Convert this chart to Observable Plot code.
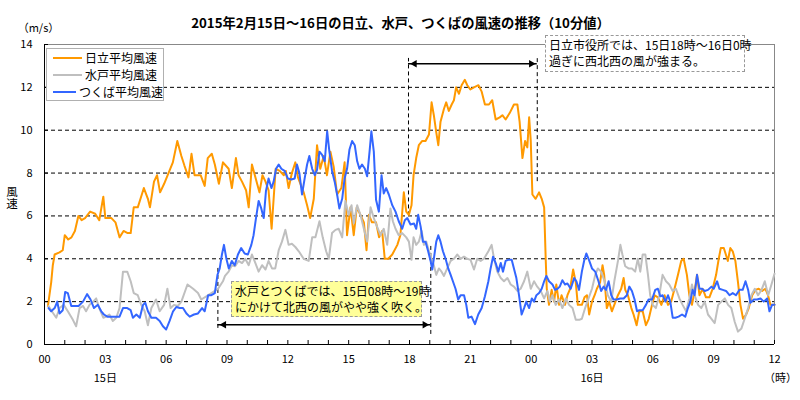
<!DOCTYPE html>
<html><head><meta charset="utf-8">
<script src="https://cdn.jsdelivr.net/npm/d3@7"></script>
<script src="https://cdn.jsdelivr.net/npm/@observablehq/plot@0.6"></script>
<style>
body{margin:0;background:#fff;font-family:'Noto Sans CJK JP',sans-serif;}
#wrap{position:relative;width:800px;height:400px;overflow:hidden;}
#wrap svg{position:absolute;left:0;top:0;}
.box{position:absolute;font-size:12px;line-height:16px;box-sizing:border-box;color:#000;white-space:nowrap;}
.row{display:flex;align-items:center;height:17px;}
.sw{display:inline-block;width:29px;height:2px;margin:0 3px 0 6px;}
.vlabel{position:absolute;left:6px;top:186px;font-size:11.5px;line-height:12px;writing-mode:vertical-rl;color:#000;}
</style></head><body><div id="wrap"></div>
<script>
// ---- data (hours from 15日00時, wind speed m/s) ----
const seriesNames = ["日立平均風速", "水戸平均風速", "つくば平均風速"];
const seriesColors = ["#ff9900", "#bfbfbf", "#3366ff"];

const hitachiT = [0.17,0.33,0.41,0.5,0.74,0.9,1.0,1.17,1.33,1.5,1.67,1.83,2.0,2.25,2.5,2.7,2.9,3.0,3.3,3.5,3.7,3.9,4.1,4.25,4.4,4.6,4.8,4.9,5.1,5.2,5.4,5.55,5.7,5.9,6.2,6.33,6.55,6.75,6.9,7.1,7.25,7.4,7.7,7.9,8.05,8.25,8.4,8.6,8.8,9.08,9.24,9.44,9.57,9.74,9.94,10.07,10.23,10.4,10.6,10.75,10.9,11.05,11.2,11.4,11.6,11.8,11.9,12.04,12.2,12.37,12.5,12.78,12.95,13.1,13.28,13.44,13.6,13.77,13.93,14.1,14.26,14.43,14.64,14.8,14.92,15.09,15.25,15.4,15.58,15.75,15.88,16.0,16.15,16.35,16.5,16.65,16.78,16.95,17.15,17.4,17.55,17.72,17.84,17.97,18.1,18.2,18.33,18.46,18.63,18.79,18.96,19.09,19.2,19.32,19.42,19.53,19.7,19.81,19.94,20.08,20.19,20.3,20.44,20.57,20.73,20.85,21.0,21.18,21.4,21.56,21.72,21.92,22.08,22.25,22.45,22.58,22.74,22.94,23.15,23.32,23.43,23.57,23.7,23.81,23.9,23.98,24.06,24.22,24.39,24.52,24.64,24.72,24.77,24.88,25.01,25.13,25.24,25.38,25.5,25.67,25.79,25.92,26.07,26.2,26.3,26.5,26.63,26.75,26.86,27.0,27.13,27.24,27.4,27.52,27.6,27.73,27.85,27.98,28.1,28.28,28.44,28.56,28.64,28.77,28.94,29.05,29.2,29.33,29.5,29.66,29.8,29.96,30.09,30.25,30.42,30.58,30.75,30.9,31.07,31.24,31.4,31.52,31.68,31.8,31.93,32.06,32.18,32.3,32.46,32.62,32.79,32.95,33.12,33.25,33.35,33.5,33.6,33.7,33.82,33.94,34.07,34.2,34.32,34.45,34.6,34.73,34.9,35.06,35.22,35.39,35.55,35.68,35.8,35.91,36.0];
const hitachiV = [1.8,2.9,3.7,4.2,4.3,4.4,5.1,4.9,5.0,5.3,6.0,5.8,5.9,6.2,6.1,5.8,6.9,5.9,5.9,5.7,5.0,5.3,5.2,5.2,6.4,6.4,7.0,7.3,6.8,6.4,7.6,7.9,7.1,7.5,8.2,8.5,9.5,8.8,8.35,7.8,8.9,7.9,7.9,7.4,8.7,8.9,8.4,7.5,8.5,8.2,7.3,8.7,7.9,7.6,7.2,6.4,8.4,7.8,7.1,7.9,7.6,7.2,5.4,8.2,8.1,7.9,8.1,7.3,8.0,8.5,7.8,7.1,6.5,5.9,6.8,9.3,8.2,8.8,7.9,9.0,8.3,7.0,7.3,8.5,5.1,6.4,5.1,6.4,6.05,5.7,4.4,6.05,5.7,5.7,5.0,5.3,4.0,4.0,4.2,4.65,5.1,7.1,6.2,6.05,6.5,7.9,8.7,9.3,9.5,9.5,9.8,11.3,10.7,9.9,9.3,10.4,11.0,11.3,10.9,11.2,11.4,12.0,11.7,12.1,12.35,12.1,11.9,12.0,12.1,11.8,11.2,11.2,11.4,10.5,10.6,10.7,10.5,10.8,11.2,11.2,10.4,8.7,9.5,9.2,10.6,9.5,7.0,6.8,7.1,6.8,6.4,3.9,2.6,1.85,2.55,2.0,2.8,1.85,2.3,1.85,2.3,2.6,3.5,2.9,1.85,1.85,2.2,2.3,1.4,2.0,2.3,2.6,2.9,3.7,3.25,1.7,2.0,1.55,1.85,2.3,2.6,3.1,2.55,2.3,1.7,1.4,0.9,1.55,1.55,0.9,1.2,1.85,2.3,2.2,1.85,2.3,1.85,2.0,2.6,3.25,3.9,4.0,3.25,2.3,1.85,2.5,3.25,2.3,2.6,2.2,2.2,2.6,3.25,4.0,4.5,4.5,4.2,3.9,4.5,4.35,3.9,2.9,1.85,1.2,1.4,1.7,2.3,2.55,2.6,2.5,2.6,2.3,1.85,1.85,1.85];

const mitoT = [0.2,0.36,0.58,0.74,0.95,1.15,1.4,1.56,1.73,1.9,2.05,2.22,2.4,2.55,2.7,2.9,3.05,3.2,3.37,3.54,3.7,3.87,4.08,4.25,4.4,4.6,4.77,4.94,5.1,5.27,5.5,5.68,5.9,6.06,6.22,6.39,6.58,6.75,7.05,7.33,7.57,7.73,7.98,8.23,8.4,8.56,8.8,8.9,9.08,9.24,9.4,9.57,9.74,9.9,10.07,10.23,10.4,10.56,10.73,10.9,11.05,11.22,11.38,11.55,11.71,11.88,12.04,12.2,12.37,12.54,12.78,13.03,13.2,13.36,13.56,13.72,13.89,14.02,14.18,14.35,14.51,14.68,14.84,15.0,15.14,15.25,15.42,15.58,15.75,15.91,16.08,16.24,16.4,16.57,16.73,16.9,17.06,17.18,17.31,17.47,17.64,17.84,17.97,18.1,18.2,18.33,18.46,18.6,18.71,18.83,18.96,19.09,19.2,19.32,19.45,19.58,19.7,19.86,20.03,20.19,20.36,20.52,20.69,20.85,21.01,21.18,21.34,21.51,21.67,21.89,22.05,22.17,22.33,22.5,22.66,22.83,22.99,23.15,23.32,23.48,23.65,23.81,23.98,24.14,24.3,24.47,24.64,24.8,24.92,25.05,25.21,25.38,25.54,25.71,25.87,26.04,26.2,26.37,26.5,26.66,26.83,27.0,27.16,27.29,27.45,27.62,27.78,27.95,28.1,28.28,28.4,28.5,28.64,28.8,28.97,29.13,29.26,29.38,29.5,29.63,29.76,29.87,29.99,30.15,30.32,30.48,30.65,30.81,30.98,31.14,31.31,31.47,31.64,31.8,31.93,32.06,32.23,32.39,32.56,32.72,32.89,33.05,33.22,33.38,33.55,33.71,33.87,34.04,34.2,34.37,34.53,34.7,34.86,35.03,35.19,35.36,35.52,35.69,35.85,36.0];
const mitoV = [1.8,1.55,1.25,1.7,1.85,1.55,1.15,0.85,1.7,1.8,1.55,1.85,2.0,2.15,1.7,1.25,1.3,1.4,1.1,1.25,1.7,3.4,3.4,2.95,2.4,2.3,1.85,1.55,0.9,1.7,2.1,1.55,1.85,2.6,1.7,1.85,1.8,2.0,2.8,2.6,2.4,2.1,2.25,2.4,2.5,2.6,2.95,3.2,3.4,3.7,3.65,3.9,3.8,4.0,3.7,4.2,3.8,3.4,3.7,3.5,3.9,3.55,3.55,4.4,4.8,5.35,4.65,4.7,4.55,4.35,4.0,3.9,5.0,5.0,5.75,5.0,4.35,4.0,5.2,5.35,5.4,5.0,6.7,6.05,6.5,5.65,6.5,6.05,5.4,4.8,6.4,5.9,5.5,5.1,5.4,4.65,6.35,5.75,5.4,5.1,5.2,5.0,4.8,3.95,5.0,4.65,4.8,5.3,4.65,4.8,4.35,4.0,3.7,3.25,3.55,3.4,3.2,3.55,3.9,4.0,4.2,4.0,4.1,4.0,3.95,3.5,4.0,3.9,4.0,4.35,4.65,4.0,3.4,3.1,2.95,3.1,2.8,2.7,2.5,2.6,2.95,3.4,2.6,2.95,2.7,2.5,2.15,2.5,2.0,2.3,1.85,2.1,1.7,2.15,1.85,1.7,1.15,1.15,1.2,1.7,2.15,2.6,3.25,3.55,3.4,2.95,2.3,2.0,2.95,3.9,4.65,4.2,3.65,3.55,3.55,3.4,4.0,3.4,4.2,4.2,3.25,2.3,1.85,1.7,2.3,3.25,2.95,2.8,2.5,2.6,2.15,1.85,1.55,2.15,2.8,2.3,1.85,1.7,2.0,1.4,1.2,1.0,1.85,2.0,2.15,1.85,1.7,1.05,0.6,0.75,1.2,1.7,2.3,2.6,2.3,2.55,2.95,2.3,2.8,3.3];

const tsukubaT = [0.2,0.33,0.5,0.63,0.74,0.9,1.02,1.15,1.32,1.48,1.68,1.9,2.1,2.27,2.44,2.63,2.8,2.93,3.1,3.32,3.54,3.7,3.87,4.08,4.25,4.36,4.53,4.7,4.86,4.97,5.1,5.27,5.5,5.68,5.84,6.0,6.17,6.34,6.5,6.67,6.83,7.0,7.16,7.37,7.57,7.77,7.9,8.07,8.23,8.4,8.53,8.64,8.75,8.85,8.97,9.09,9.24,9.38,9.54,9.7,9.87,10.03,10.2,10.31,10.43,10.56,10.69,10.81,10.92,11.05,11.19,11.3,11.42,11.55,11.68,11.84,12.0,12.17,12.34,12.45,12.57,12.7,12.83,12.95,13.06,13.2,13.33,13.44,13.56,13.69,13.82,13.94,14.05,14.18,14.31,14.43,14.54,14.68,14.8,14.92,15.04,15.17,15.3,15.42,15.53,15.66,15.8,15.91,16.03,16.12,16.24,16.35,16.49,16.62,16.73,16.85,16.98,17.15,17.31,17.47,17.64,17.77,17.89,18.05,18.22,18.33,18.43,18.55,18.66,18.79,18.92,19.04,19.12,19.2,19.32,19.42,19.53,19.65,19.78,19.91,20.03,20.14,20.27,20.4,20.52,20.69,20.8,20.9,21.06,21.23,21.39,21.56,21.72,21.89,22.0,22.12,22.25,22.38,22.5,22.61,22.74,22.87,23.04,23.15,23.27,23.4,23.53,23.65,23.76,23.9,24.03,24.14,24.26,24.39,24.52,24.64,24.75,24.88,25.05,25.18,25.3,25.41,25.54,25.67,25.79,25.95,26.12,26.23,26.36,26.5,26.61,26.72,26.85,27.0,27.16,27.32,27.45,27.57,27.69,27.82,27.95,28.06,28.23,28.39,28.56,28.72,28.84,28.97,29.1,29.22,29.33,29.5,29.66,29.79,29.96,30.12,30.25,30.37,30.48,30.62,30.75,30.86,30.98,31.11,31.27,31.44,31.6,31.73,31.85,31.96,32.06,32.18,32.3,32.43,32.56,32.72,32.89,33.0,33.17,33.28,33.45,33.61,33.78,33.94,34.1,34.27,34.43,34.57,34.7,34.81,34.98,35.14,35.31,35.47,35.64,35.75,35.88,36.0];
const tsukubaV = [1.7,1.55,1.7,2.0,1.45,1.6,2.45,2.4,1.8,1.8,1.8,2.0,2.35,2.1,1.7,1.85,1.55,1.4,1.3,1.3,1.3,1.3,1.7,1.7,1.6,1.25,1.4,1.25,1.85,1.95,1.55,1.25,1.25,1.1,0.85,0.7,1.1,1.55,1.75,1.7,1.7,1.45,1.3,1.4,1.45,1.7,1.55,2.3,2.3,2.4,3.25,3.55,4.2,4.65,4.0,3.55,3.9,3.7,4.2,4.5,4.25,4.2,4.65,5.1,5.9,6.7,6.35,5.9,7.15,7.75,7.3,7.6,8.2,8.4,8.2,8.1,7.75,7.7,7.75,8.4,8.0,7.0,7.75,8.4,8.8,8.2,7.9,8.15,9.0,8.85,8.55,9.95,9.0,8.1,7.6,7.0,6.35,6.8,7.75,8.2,9.1,9.5,9.3,8.55,8.2,8.4,8.2,7.85,9.0,9.95,9.0,6.75,6.2,7.9,7.05,7.3,7.0,6.5,6.2,5.75,5.4,5.8,5.9,5.6,5.65,5.4,6.05,5.5,4.8,4.8,4.35,3.9,3.5,4.0,4.8,5.1,4.8,4.35,4.0,3.55,3.25,2.95,2.6,2.1,2.3,2.3,1.85,1.25,1.3,0.95,1.4,1.7,2.25,2.95,3.55,4.1,3.8,3.4,3.8,3.4,3.9,3.95,3.95,3.55,3.1,2.3,1.4,1.7,2.0,1.7,2.15,2.0,2.3,2.4,2.6,2.95,3.2,2.95,2.8,2.55,2.6,2.7,3.0,2.8,2.85,2.6,3.1,2.95,2.55,3.4,3.9,4.25,3.95,3.55,3.4,2.95,2.5,2.7,2.55,2.95,2.3,2.1,2.1,2.15,2.15,2.3,2.7,2.5,2.1,1.55,1.6,1.6,1.85,2.1,2.1,2.55,2.6,2.25,2.3,2.0,2.3,2.0,1.25,1.25,1.3,1.4,1.3,1.7,2.0,2.55,2.3,3.25,2.6,2.6,2.5,2.55,2.7,2.6,2.95,2.6,2.55,2.5,2.3,2.4,2.3,2.55,2.55,2.95,2.55,1.95,2.1,2.1,2.15,2.0,2.15,1.55,1.85,1.85];

// axis ticks & labels
const tickHours = d3.range(0, 37);
const labelHours = [0,3,6,9,12,15,18,21,24,27,30,33,36];
const xTickLabels = ["00","03","06","09","12","15","18","21","00","03","06","09","12"];
const yTicks = [0,2,4,6,8,10,12,14];
const gridValues = [2,4,6,8,10,12];
const dayLabels = [{x:3, text:"15日"}, {x:27, text:"16日"}];
const hourUnit = [{x:36, text:"（時）"}];
const titleText = "2015年2月15日～16日の日立、水戸、つくばの風速の推移（10分値）";
const yUnit = "（m/s）";
const yLabel = "風速";

// annotations (data coordinates)
const annoVLines = [{x:17.95, y1:6.0, y2:13.35}, {x:24.3, y1:7.6, y2:13.35}, {x:8.55, y1:0.75, y2:3.55}, {x:19.05, y1:0.47, y2:4.67}];
const annoArrows = [{x1:17.95, x2:24.3, y:13.1}, {x1:8.55, x2:19.05, y:0.92}];
const annoText1 = ["日立市役所では、15日18時～16日0時", "過ぎに西北西の風が強まる。"];
const annoText2 = ["水戸とつくばでは、15日08時～19時", "にかけて北西の風がやや強く吹く。"];

const rows = (T, V) => T.map((t, i) => ({t, v: V[i]}));
const F = "'Noto Sans CJK JP', sans-serif";

const chart = Plot.plot({
  width: 800, height: 400,
  marginLeft: 44, marginRight: 26, marginTop: 44, marginBottom: 56,
  x: {domain: [0, 36], axis: null},
  y: {domain: [0, 14], axis: null},
  style: {fontFamily: F, fontSize: "12px", background: "transparent", color: "#000"},
  marks: [
    Plot.ruleY(gridValues, {y: d => d, stroke: "#000", strokeDasharray: "4,3", strokeWidth: 1}),
    Plot.ruleY([14], {y: d => d, stroke: "#888"}),
    Plot.ruleX([36], {x: d => d, stroke: "#888"}),
    Plot.ruleX(annoVLines, {x: "x", y1: "y1", y2: "y2", stroke: "#000", strokeDasharray: "4,3"}),
    Plot.line(rows(hitachiT, hitachiV), {x: "t", y: "v", stroke: seriesColors[0], strokeWidth: 2}),
    Plot.line(rows(mitoT, mitoV), {x: "t", y: "v", stroke: seriesColors[1], strokeWidth: 2}),
    Plot.line(rows(tsukubaT, tsukubaV), {x: "t", y: "v", stroke: seriesColors[2], strokeWidth: 2}),
    Plot.ruleX([0], {x: d => d, stroke: "#000"}),
    Plot.ruleY([0], {y: d => d, stroke: "#000"}),
    Plot.ruleX(tickHours, {x: d => d, y1: 0, y2: 0, insetTop: -4, stroke: "#000"}),
    Plot.ruleY(yTicks, {y: d => d, x1: 0, x2: 0, insetRight: -4, stroke: "#000"}),
    Plot.ruleY(annoArrows, {y: "y", x1: "x1", x2: "x2", stroke: "#000", strokeWidth: 1.5}),
    Plot.dot(annoArrows, {x: "x1", y: "y", symbol: "triangle", rotate: -90, r: 2.8, fill: "#000", stroke: null, dx: 6}),
    Plot.dot(annoArrows, {x: "x2", y: "y", symbol: "triangle", rotate: 90, r: 2.8, fill: "#000", stroke: null, dx: -6}),
    Plot.text(labelHours, {x: d => d, text: (d, i) => xTickLabels[i], frameAnchor: "bottom", dy: 18, fontSize: 11}),
    Plot.text(yTicks, {y: d => d, text: d => String(d), frameAnchor: "left", textAnchor: "end", dx: -12, fontSize: 11}),
    Plot.text(dayLabels, {x: "x", text: "text", frameAnchor: "bottom", dy: 37, fontSize: 11}),
    Plot.text(hourUnit, {x: "x", text: "text", frameAnchor: "bottom", dy: 37, dx: 6, fontSize: 11}),
    Plot.text([titleText], {text: d => d, frameAnchor: "top", dy: -26, dx: -9, fontWeight: "bold", fontSize: 13.3}),
    Plot.text([yUnit], {text: d => d, frameAnchor: "top-left", textAnchor: "middle", dx: -6, dy: -20, fontSize: 11})
  ]
});
const wrap = document.getElementById("wrap");
wrap.appendChild(chart);

// vertical y-axis title
const vl = document.createElement("div");
vl.className = "vlabel";
vl.textContent = yLabel;
wrap.appendChild(vl);

// legend overlay
const legend = document.createElement("div");
legend.className = "box";
legend.style.cssText = "left:46px;top:48px;width:118px;height:53px;border:1px solid #b0b0b0;background:#fff;padding-top:0px;";
seriesNames.forEach((name, i) => {
  const r = document.createElement("div");
  r.className = "row";
  const sw = document.createElement("span");
  sw.className = "sw";
  sw.style.background = seriesColors[i];
  r.appendChild(sw);
  r.appendChild(document.createTextNode(name));
  legend.appendChild(r);
});
wrap.appendChild(legend);

function addBox(lines, css) {
  const b = document.createElement("div");
  b.className = "box";
  b.style.cssText = css;
  b.innerHTML = lines.join("<br>");
  wrap.appendChild(b);
}
addBox(annoText1, "left:545px;top:35px;width:200px;height:37px;border:1px dashed #999;background:#fff;padding:1px 3px;");
addBox(annoText2, "left:231px;top:281px;width:191px;height:36px;border:1px dashed #999;background:#ffff99;padding:1px 3px;");
</script></body></html>
